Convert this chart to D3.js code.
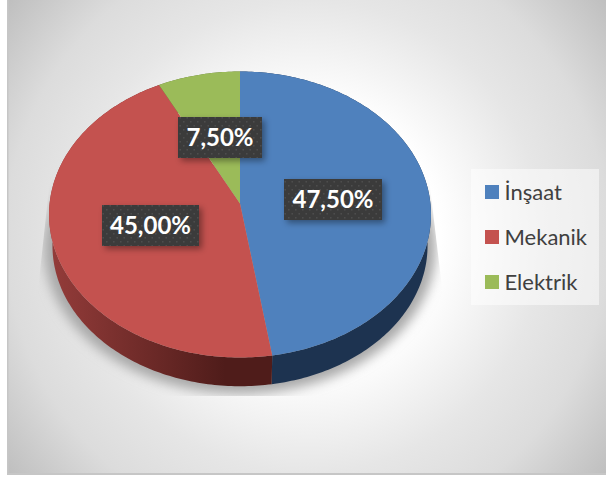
<!DOCTYPE html>
<html><head><meta charset="utf-8">
<script src="https://cdn.jsdelivr.net/npm/d3@7"></script>
<style>html,body{margin:0;padding:0;background:#fff;overflow:hidden}svg{display:block}</style>
</head><body><svg id="c" width="606" height="480"></svg>
<script>
const categories = ["İnşaat","Mekanik","Elektrik"];
const values = [47.5,45.0,7.5];
const labels = ["47,50%","45,00%","7,50%"];
const topColors = ["#4f81bd","#c4524f","#9bbb59"];
const wallColors = ["#1d3350","url(#redWall)","#5d7035"];

const svg = d3.select("#c");
const defs = svg.append("defs");

// background
const bg = defs.append("radialGradient").attr("id","bg").attr("gradientUnits","userSpaceOnUse")
  .attr("cx",307).attr("cy",237).attr("r",381);
[[0,"#ffffff"],[0.35,"#ffffff"],[0.62,"#e6e6e6"],[0.79,"#dcdcdc"],[1,"#bfbfbf"]].forEach(s=>bg.append("stop").attr("offset",s[0]).attr("stop-color",s[1]));
const rw = defs.append("linearGradient").attr("id","redWall").attr("gradientUnits","userSpaceOnUse")
  .attr("x1",55).attr("x2",225).attr("y1",0).attr("y2",0);
[[0,"#923b39"],[1,"#4f1c1a"]].forEach(s=>rw.append("stop").attr("offset",s[0]).attr("stop-color",s[1]));
defs.append("filter").attr("id","blur").attr("x","-10%").attr("y","-10%").attr("width","120%").attr("height","120%")
  .append("feGaussianBlur").attr("stdDeviation",6);
const ds = defs.append("filter").attr("id","ds").attr("x","-20%").attr("y","-30%").attr("width","140%").attr("height","170%");
ds.append("feDropShadow").attr("dx",3).attr("dy",3).attr("stdDeviation",3).attr("flood-color","#000").attr("flood-opacity",.38);
const pat = defs.append("pattern").attr("id","dots").attr("patternUnits","userSpaceOnUse").attr("width",7).attr("height",8);
pat.append("rect").attr("width",7).attr("height",8).attr("fill","#3b3b3b");
pat.append("rect").attr("x",1).attr("y",1).attr("width",1.5).attr("height",1.5).attr("fill","#4e4e4e");
pat.append("rect").attr("x",4.5).attr("y",5).attr("width",1.5).attr("height",1.5).attr("fill","#4e4e4e");
defs.append("clipPath").attr("id","shClip").append("path").attr("d",d3.line()([[52,160],[38,290],[38,396],[443,396],[443,296],[428,170]])+"Z");

svg.append("rect").attr("x",7).attr("y",-2).attr("width",620).attr("height",477).attr("fill","#c6c6c6");
svg.append("rect").attr("x",8.5).attr("y",0).attr("width",600).attr("height",473).attr("fill","url(#bg)");

// shadow
svg.append("g").attr("clip-path","url(#shClip)").append("ellipse")
  .attr("cx",240).attr("cy",248).attr("rx",196).attr("ry",146).attr("fill","#a8a8a8").attr("filter","url(#blur)");

// perspective projection of the pie disc
const e = 0.0769;
function project(theta, cy, scale){
  const u = Math.sin(theta), v = -Math.cos(theta), d = 1 - e*v;
  return [240 + scale*190.4*u/d, cy + scale*142.15*v/d];
}
const pie = d3.pie().sort(null).value(d=>d).startAngle(0).endAngle(2*Math.PI);
const arcs = pie(values);
const line = d3.line();
const samples = a => { const n = Math.max(4,Math.ceil((a.endAngle-a.startAngle)*60));
  return d3.range(n+1).map(i=>a.startAngle+(a.endAngle-a.startAngle)*i/n); };

// walls
const wall = svg.append("g");
wall.selectAll("path").data(arcs).join("path")
  .attr("d",a=>{const t=samples(a);
    return line(t.map(x=>project(x,203.5,1)).concat(t.slice().reverse().map(x=>project(x,235,0.982))))+"Z";})
  .attr("fill",(a,i)=>wallColors[i]);
// top disc
svg.append("g").selectAll("path").data(arcs).join("path")
  .attr("d",a=>line([[240,203.5]].concat(samples(a).map(x=>project(x,203.5,1))))+"Z")
  .attr("fill",(a,i)=>topColors[i]);

// data labels
const boxes = [[284,179,98,41],[102,205,97,41],[178,117,84,41]];
const lab = svg.append("g").selectAll("g").data(labels).join("g");
lab.append("rect").attr("x",(d,i)=>boxes[i][0]).attr("y",(d,i)=>boxes[i][1])
  .attr("width",(d,i)=>boxes[i][2]).attr("height",(d,i)=>boxes[i][3])
  .attr("fill","url(#dots)").attr("filter","url(#ds)");
lab.append("text").attr("x",(d,i)=>boxes[i][0]+boxes[i][2]/2).attr("y",(d,i)=>boxes[i][1]+29)
  .attr("text-anchor","middle").attr("font-family","Lato").attr("font-weight",700).attr("font-size",24)
  .attr("fill","#fff").text(d=>d);

// legend
svg.append("rect").attr("x",471).attr("y",169).attr("width",128).attr("height",136).attr("fill","#fff").attr("fill-opacity",.5);
const ly = d3.scalePoint().domain(categories).range([192,282]);
const leg = svg.append("g").selectAll("g").data(categories).join("g").attr("transform",d=>`translate(0,${ly(d)})`);
leg.append("rect").attr("x",485).attr("y",-7).attr("width",14).attr("height",14).attr("fill",(d,i)=>topColors[i]);
leg.append("text").attr("x",504.5).attr("y",7.5).attr("font-family","Lato").attr("font-size",22).attr("fill","#404040").text(d=>d);
</script></body></html>
